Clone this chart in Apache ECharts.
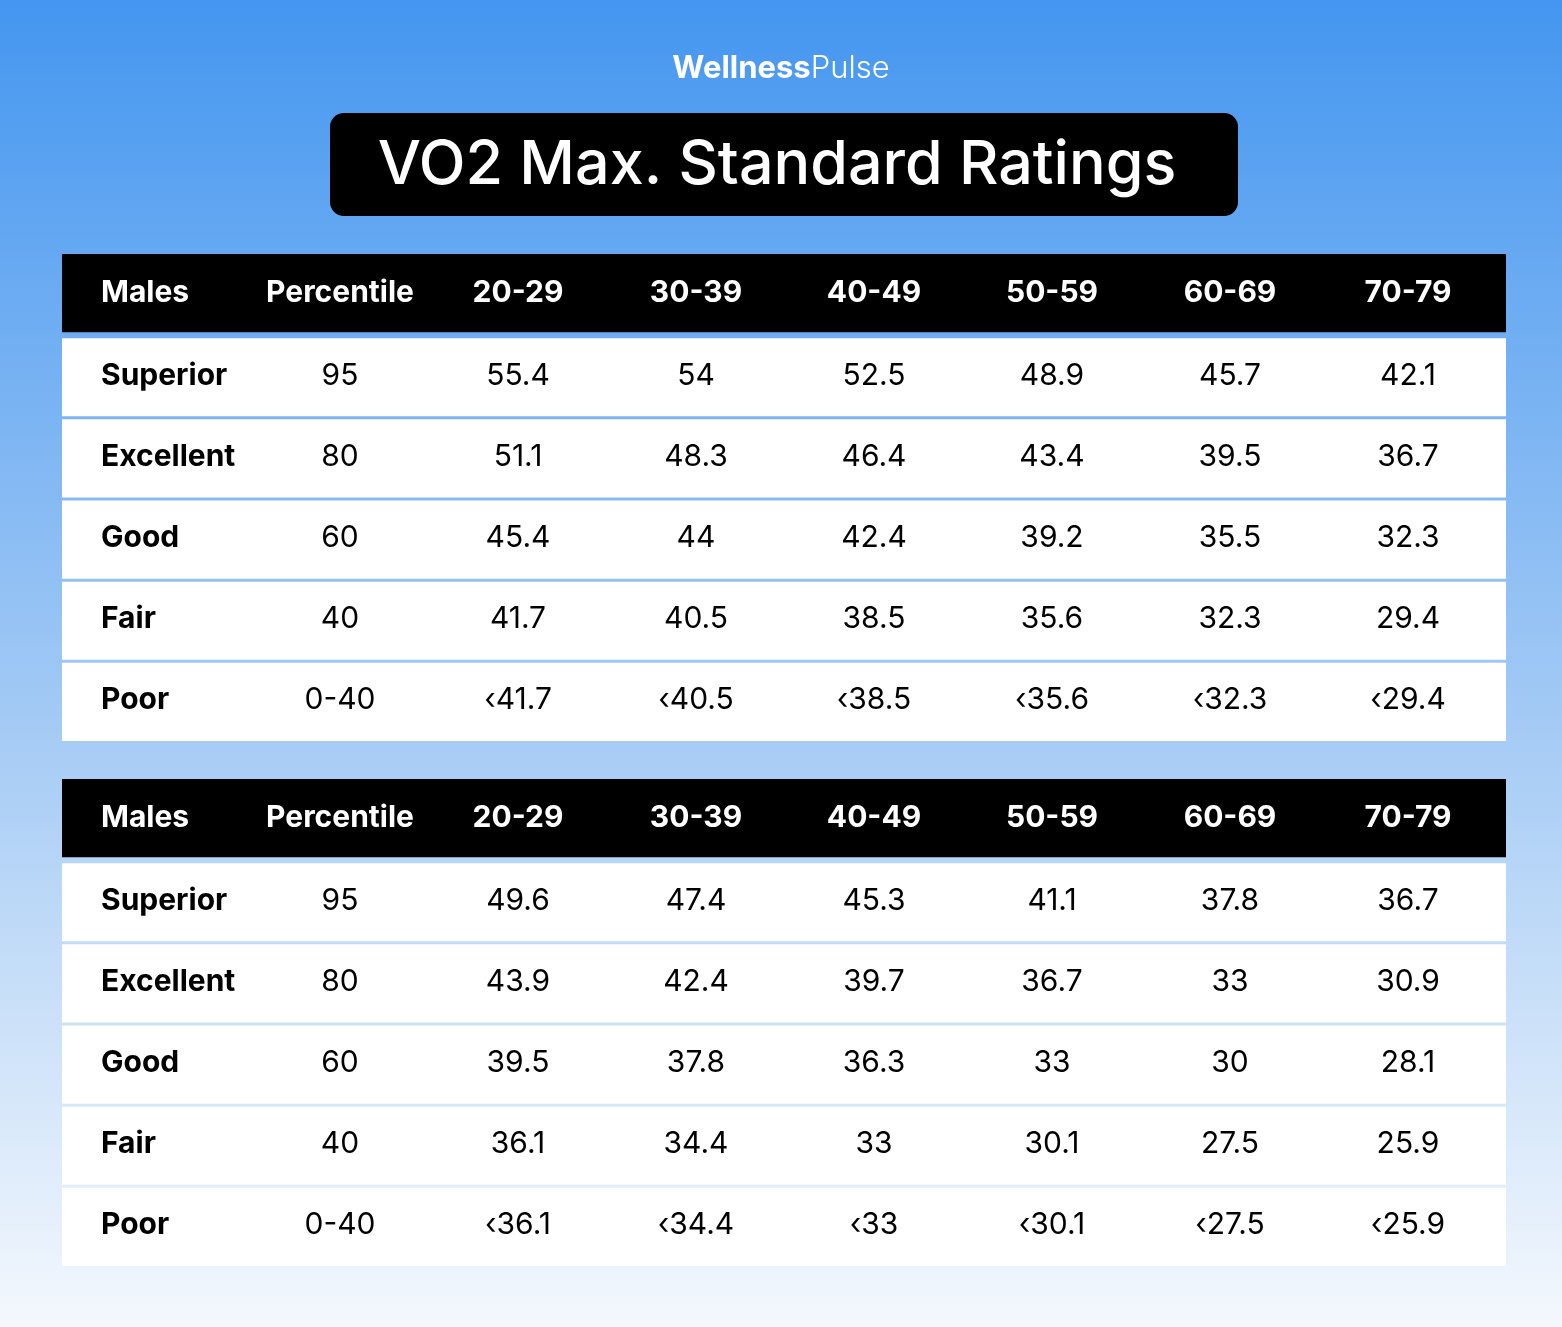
<!DOCTYPE html>
<html>
<head>
<meta charset="utf-8">
<script src="https://cdn.jsdelivr.net/npm/echarts@6/dist/echarts.min.js"></script>
<style>html,body{margin:0;padding:0}#chart-container{width:1562px;height:1327px}</style>
</head>
<body>
<div id="chart-container"></div>
<script>
'use strict';
const columns = ['Males', 'Percentile', '20-29', '30-39', '40-49', '50-59', '60-69', '70-79'];
const ratings = ['Superior', 'Excellent', 'Good', 'Fair', 'Poor'];
const percentiles = ['95', '80', '60', '40', '0-40'];
const tableOne = [
    ['55.4', '54', '52.5', '48.9', '45.7', '42.1'],
    ['51.1', '48.3', '46.4', '43.4', '39.5', '36.7'],
    ['45.4', '44', '42.4', '39.2', '35.5', '32.3'],
    ['41.7', '40.5', '38.5', '35.6', '32.3', '29.4'],
    ['‹41.7', '‹40.5', '‹38.5', '‹35.6', '‹32.3', '‹29.4']
];
const tableTwo = [
    ['49.6', '47.4', '45.3', '41.1', '37.8', '36.7'],
    ['43.9', '42.4', '39.7', '36.7', '33', '30.9'],
    ['39.5', '37.8', '36.3', '33', '30', '28.1'],
    ['36.1', '34.4', '33', '30.1', '27.5', '25.9'],
    ['‹36.1', '‹34.4', '‹33', '‹30.1', '‹27.5', '‹25.9']
];
const rowKeys = ['header'].concat(ratings);
const font = 'Inter, "Noto Sans", sans-serif';

function cellData(values) {
    const out = [];
    columns.forEach((c, ci) => out.push([ci, 0, c]));
    ratings.forEach((r, ri) => {
        out.push([0, ri + 1, r]);
        out.push([1, ri + 1, percentiles[ri]]);
        values[ri].forEach((v, vi) => out.push([vi + 2, ri + 1, v]));
    });
    return out;
}

function rowSeries(idx) {
    return {
        type: 'custom', xAxisIndex: idx, yAxisIndex: idx, silent: true,
        data: rowKeys.map((k, i) => [0, i]),
        renderItem: (params, api) => {
            const cs = params.coordSys;
            const row = api.value(1);
            const c = api.coord([0, row]);
            const h = api.size([1, 1])[1];
            const isHead = row === 0;
            return {
                type: 'rect',
                shape: { x: cs.x - 11, y: c[1] - h / 2 + (isHead ? 0 : 3), width: cs.width + 20, height: h - 3 },
                style: { fill: isHead ? '#000' : '#fff' }
            };
        }
    };
}

function textSeries(idx, values) {
    const cells = cellData(values);
    return {
        type: 'custom', xAxisIndex: idx, yAxisIndex: idx, silent: true, z: 5,
        data: cells.map(d => [d[0], d[1]]),
        renderItem: (params, api) => {
            const cs = params.coordSys;
            const col = api.value(0), row = api.value(1);
            const c = api.coord([col, row]);
            const txt = cells[params.dataIndex][2];
            const isHead = row === 0;
            return {
                type: 'text',
                x: col === 0 ? cs.x + 28 : c[0],
                y: c[1] + (isHead ? -2 : 0),
                style: {
                    text: txt,
                    fill: isHead ? '#fff' : '#000',
                    font: (isHead || col === 0 ? '700 ' : '400 ') + '30px ' + font,
                    align: col === 0 ? 'left' : 'center',
                    verticalAlign: 'middle'
                }
            };
        }
    };
}

const myChart = echarts.init(document.getElementById('chart-container'), null, { renderer: 'canvas' });

const grids = [
    { left: 73, width: 1424, top: 254, height: 487 },
    { left: 73, width: 1424, top: 779, height: 487 }
];

myChart.setOption({
    backgroundColor: {
        type: 'linear', x: 0, y: 0, x2: 0, y2: 1,
        colorStops: [{ offset: 0, color: '#4496f0' }, { offset: 0.55, color: '#a5cbf5' }, { offset: 1, color: '#f4f8fd' }]
    },
    grid: grids,
    xAxis: grids.map((g, i) => ({ type: 'category', gridIndex: i, data: columns, show: false })),
    yAxis: grids.map((g, i) => ({ type: 'category', gridIndex: i, data: rowKeys, inverse: true, show: false })),
    graphic: [
        {
            type: 'text', left: 'center', top: 53,
            style: {
                rich: {
                    a: { font: '700 31px ' + font, fill: '#fff' },
                    b: { font: '300 31px ' + font, fill: '#fff' }
                },
                text: '{a|Wellness}{b|Pulse}'
            }
        },
        {
            type: 'rect', shape: { x: 330, y: 113, width: 908, height: 103, r: 14 },
            style: { fill: '#000' }
        },
        {
            type: 'text', x: 777, y: 166,
            style: { text: 'VO2 Max. Standard Ratings', font: '500 61px ' + font, fill: '#fff', align: 'center', verticalAlign: 'middle' }
        }
    ],
    series: [rowSeries(0), textSeries(0, tableOne), rowSeries(1), textSeries(1, tableTwo)]
});

window.addEventListener('resize', myChart.resize);
</script>
</body>
</html>
